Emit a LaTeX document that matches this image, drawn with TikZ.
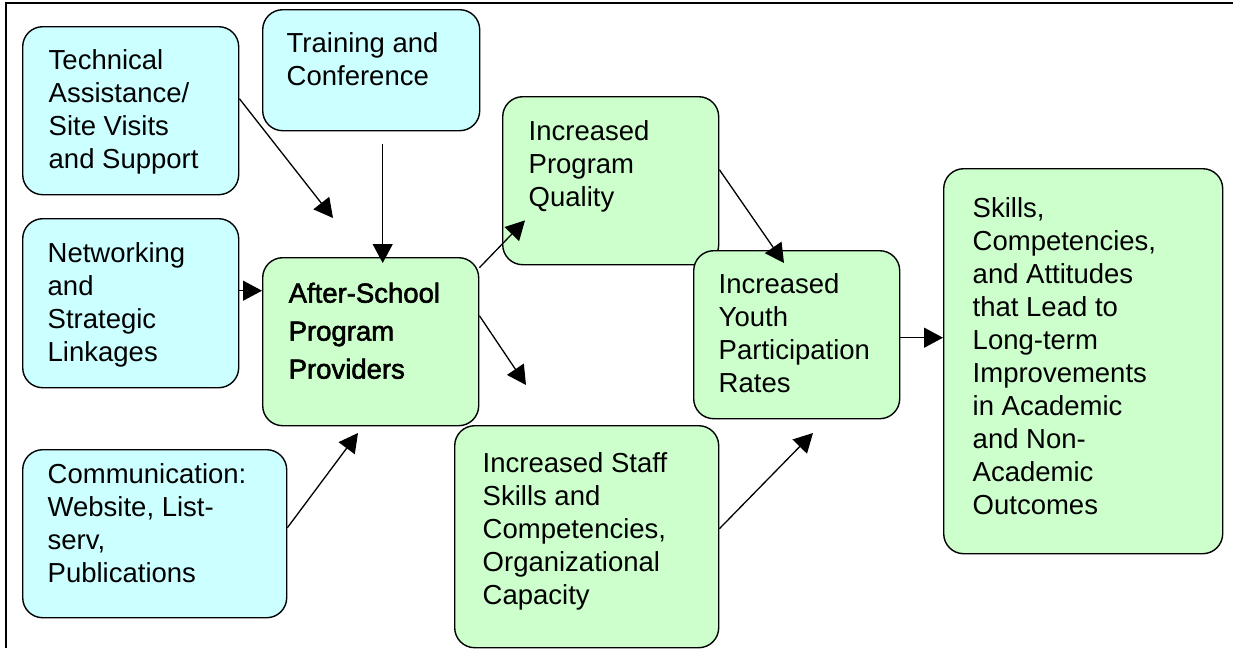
\documentclass[tikz,border=0pt]{standalone}
\usepackage{fontspec}
\setmainfont{Liberation Sans}
\newfontfamily\heavyfont[FakeBold=2]{Liberation Sans}
\usepackage{tikz}
\usetikzlibrary{calc,arrows.meta}

\definecolor{boxcyan}{HTML}{CCFFFF}
\definecolor{boxgreen}{HTML}{CCFFCC}

\begin{document}
\begin{tikzpicture}[x=1pt,y=-1pt,
		box/.style={draw,line width=1.4pt,rounded corners=20pt,anchor=north west,
			font=\fontsize{27.5}{33}\selectfont},
		cbox/.style={box,fill=boxcyan},
		gbox/.style={box,fill=boxgreen},
		arr/.style={line width=1.3pt,-{Triangle[length=19pt,width=20pt]}}]
		\useasboundingbox (0,0) rectangle (1233,648);
		\draw[line width=2.5pt] (1233,3) -- (6,3) -- (6,648);
		
		% inputs
		\node[cbox,inner xsep=26pt,inner ysep=23pt](tech)at(22,26) {\parbox[c][122pt][t]{164pt}{Technical\\Assistance/\\Site Visits\\and Support}};
		\node[cbox,inner xsep=24pt,inner ysep=23pt](train)at(262,9) {\parbox[c][75pt][t]{169pt}{Training and\\Conference}};
		\node[cbox,inner xsep=25pt,inner ysep=24pt](net)at(22,218) {\parbox[c][121pt][t]{166pt}{Networking\\and\\Strategic\\Linkages}};
		\node[cbox,inner xsep=25pt,inner ysep=14pt](comm)at(22,449) {\parbox[c][140pt][t]{214pt}{Communication:\\Website, List-\\serv,\\Publications}};
		
		% providers and outcomes
		\node[gbox,inner xsep=26pt,inner ysep=25pt](after)at(262,257) {\parbox[c][118pt][t]{164pt}{\heavyfont\fontsize{27.5}{38}\selectfont After-School\\Program\\Providers}};
		\node[gbox,inner xsep=26pt,inner ysep=24pt](qual)at(502,96) {\parbox[c][120pt][t]{164pt}{Increased\\Program\\Quality}};
		\node[gbox,inner xsep=28pt,inner ysep=27pt](staff)at(454,425) {\parbox[c][168pt][t]{208pt}{Increased Staff\\Skills and\\Competencies,\\Organizational\\Capacity}};
		\node[gbox,inner xsep=25pt,inner ysep=23pt](youth)at(693,250) {\parbox[c][122pt][t]{156pt}{Increased\\Youth\\Participation\\Rates}};
		\node[gbox,inner xsep=29pt,inner ysep=29pt](outc)at(943,168) {\parbox[c][327pt][t]{221pt}{Skills,\\Competencies,\\and Attitudes\\that Lead to\\Long-term\\Improvements\\in Academic\\and Non-\\Academic\\Outcomes}};
		
		% free arrow ends
		\coordinate(techtip)at(333,218);
		\coordinate(commtip)at(358,433);
		\coordinate(stafftip)at(526,385);
		\coordinate(youthtip)at(813,433);
		
		\draw[arr]($(tech.east)+(0,-12)$) -- (techtip);
		\draw[arr]($(train.south)+(11.5,13)$) -- ($(after.north)+(12,6)$);
		\draw[arr]($(net.east)+(0,-12.5)$) coordinate(n1) -- (n1 -| after.west);
		\draw[arr]($(comm.east)+(0,-6)$) -- (commtip);
		\draw[arr]($(after.east)+(0,-74)$) -- ($(qual.south west)+(23,-45)$);
		\draw[arr]($(after.east)+(0,-26)$) -- (stafftip);
		\draw[arr]($(qual.east)+(0,-11)$) -- ($(youth.north west)+(91,13)$);
		\draw[arr]($(staff.east)+(0,-8)$) -- (youthtip);
		\draw[arr]($(youth.east)+(0,3)$) coordinate(y1) -- (y1 -| outc.west);
	\end{tikzpicture}
\end{document}
